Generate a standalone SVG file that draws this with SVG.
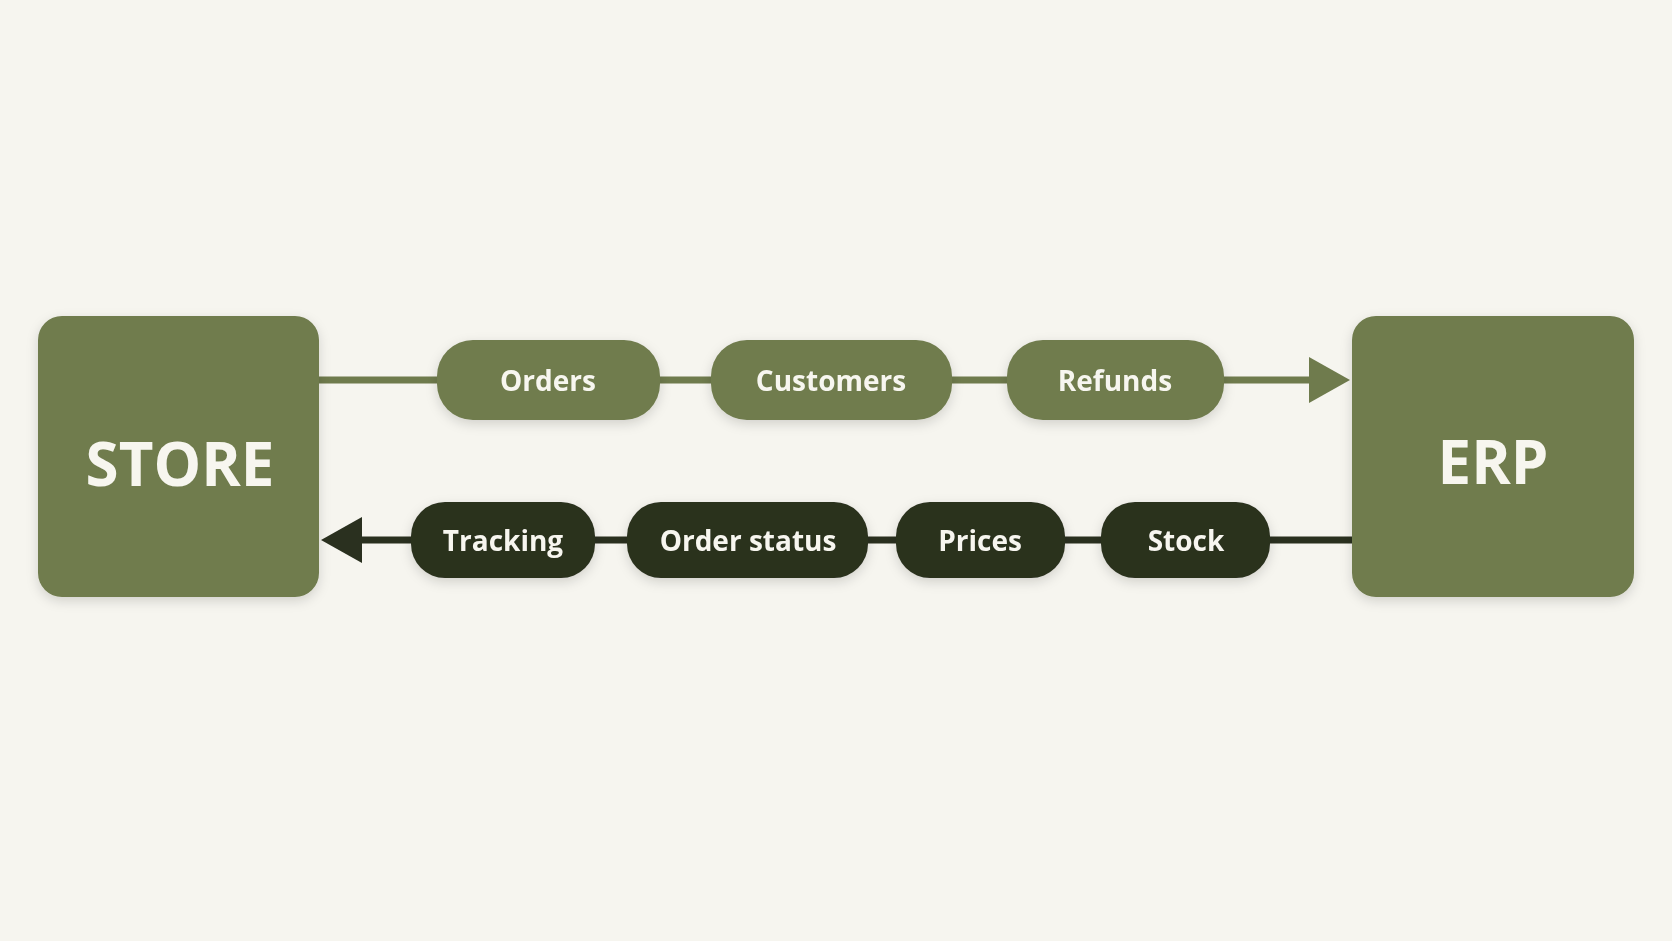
<svg xmlns="http://www.w3.org/2000/svg" width="1672" height="941" viewBox="0 0 1672 941">
<style>
.box{fill:#6f7b4d}
.pl{fill:#6f7b4d}
.pd{fill:#2a301f}
.t{font-family:"Open Sans","Liberation Sans",sans-serif;font-weight:700;fill:#f7f6ef;text-anchor:middle;dominant-baseline:central}
.pt{font-size:28px}
.bt{font-size:60px}
</style>
<defs>
<filter id="sh" x="-20%" y="-20%" width="140%" height="140%"><feDropShadow dx="0" dy="4" stdDeviation="6" flood-color="#000" flood-opacity="0.15"/></filter>
</defs>
<rect width="1672" height="941" fill="#f6f5ef"/>
<g id="connectors">
<line x1="319" y1="380" x2="1312" y2="380" stroke="#6f7b4d" stroke-width="7"/>
<polygon points="1350,380 1309,357 1309,403" fill="#6f7b4d"/>
<line x1="358" y1="540" x2="1352" y2="540" stroke="#2a301f" stroke-width="7"/>
<polygon points="321,540 362,517 362,563" fill="#2a301f"/>
</g>
<g id="store" filter="url(#sh)"><rect class="box" x="38" y="316" width="281" height="281" rx="24"/><text class="t bt" x="180" y="463">STORE</text></g>
<g id="erp" filter="url(#sh)"><rect class="box" x="1352" y="316" width="282" height="281" rx="24"/><text class="t bt" x="1493" y="461">ERP</text></g>
<g id="orders" filter="url(#sh)"><rect class="pl" x="437" y="340" width="223" height="80" rx="36"/><text class="t pt" x="548" y="380">Orders</text></g>
<g id="customers" filter="url(#sh)"><rect class="pl" x="711" y="340" width="241" height="80" rx="36"/><text class="t pt" x="831" y="380">Customers</text></g>
<g id="refunds" filter="url(#sh)"><rect class="pl" x="1007" y="340" width="217" height="80" rx="36"/><text class="t pt" x="1115" y="380">Refunds</text></g>
<g id="tracking" filter="url(#sh)"><rect class="pd" x="411" y="502" width="184" height="76" rx="34"/><text class="t pt" x="503" y="540">Tracking</text></g>
<g id="order-status" filter="url(#sh)"><rect class="pd" x="627" y="502" width="241" height="76" rx="34"/><text class="t pt" x="748" y="540">Order status</text></g>
<g id="prices" filter="url(#sh)"><rect class="pd" x="896" y="502" width="169" height="76" rx="34"/><text class="t pt" x="980" y="540">Prices</text></g>
<g id="stock" filter="url(#sh)"><rect class="pd" x="1101" y="502" width="169" height="76" rx="34"/><text class="t pt" x="1186" y="540">Stock</text></g>
</svg>
